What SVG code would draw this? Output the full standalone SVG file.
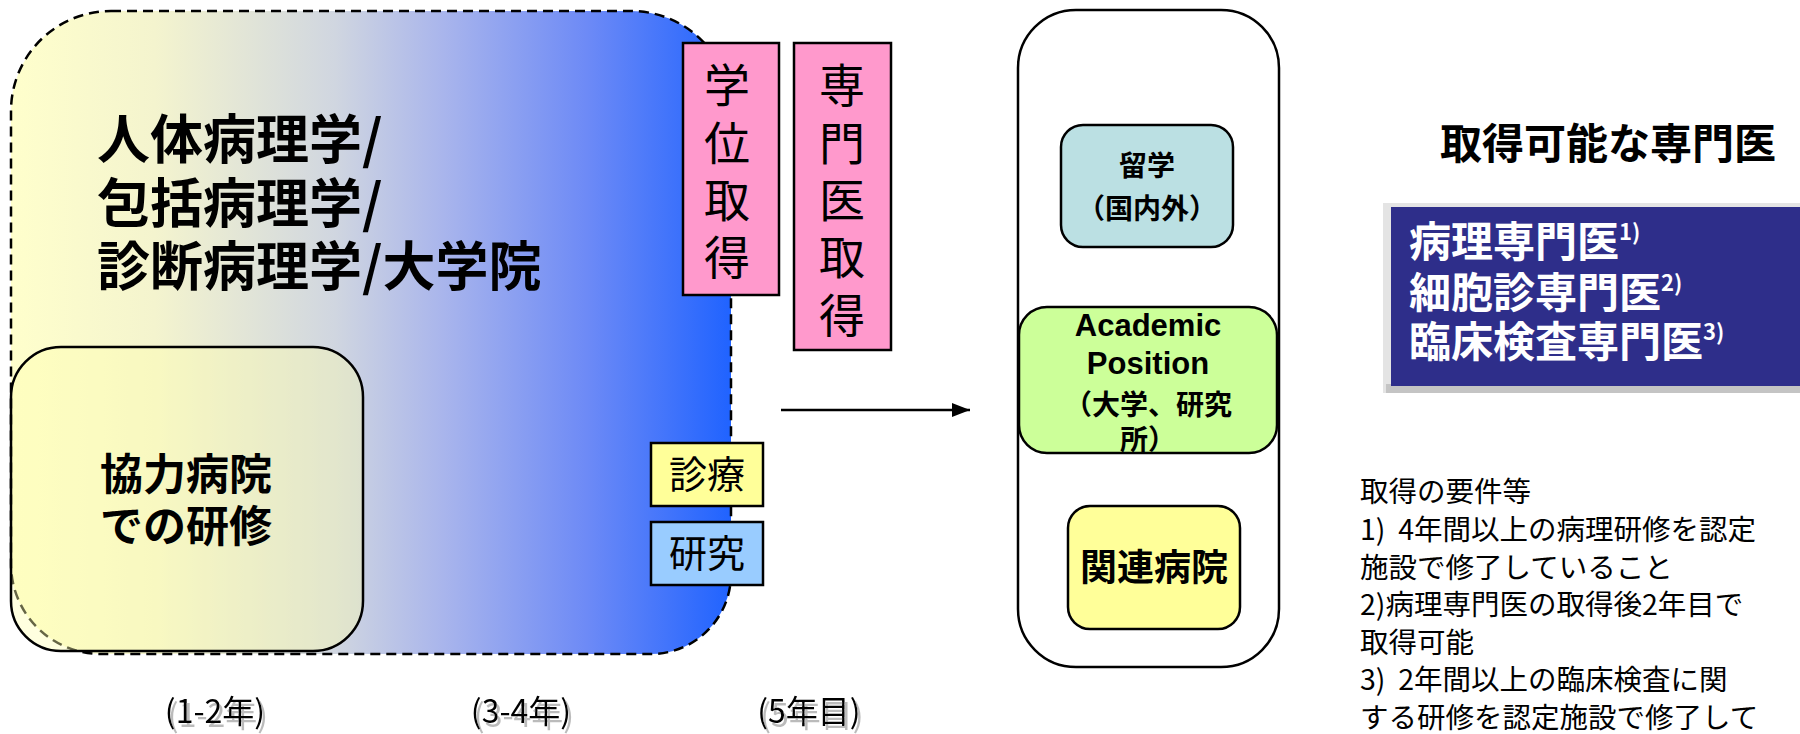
<svg xmlns="http://www.w3.org/2000/svg" width="1800" height="734" viewBox="0 0 1800 734">
<defs>
<linearGradient id="gBig" gradientUnits="userSpaceOnUse" x1="11" y1="0" x2="731" y2="0">
<stop offset="0" stop-color="#FFFFCC"/>
<stop offset="0.2" stop-color="#F4F4CE"/>
<stop offset="0.45" stop-color="#D0D6E0"/>
<stop offset="0.6" stop-color="#A9B5EC"/>
<stop offset="0.8" stop-color="#6D8AF6"/>
<stop offset="1" stop-color="#2063FF"/>
</linearGradient>
<marker id="arr" viewBox="0 0 10 10" refX="10" refY="5" markerWidth="18" markerHeight="14" markerUnits="userSpaceOnUse" orient="auto" preserveAspectRatio="none">
<path d="M0,0 L10,5 L0,10 Z" fill="#000"/>
</marker>
<filter id="sh" x="-10%" y="-20%" width="130%" height="160%">
<feOffset in="SourceAlpha" dx="3" dy="4" result="o"/>
<feFlood flood-color="#BBBBBB"/>
<feComposite in2="o" operator="in" result="s"/>
<feMerge><feMergeNode in="s"/><feMergeNode in="SourceGraphic"/></feMerge>
</filter>
<style>
.jp{font-family:"Noto Sans CJK JP","Noto Sans",sans-serif;fill:#000}
.lat{font-family:"Liberation Sans",Arial,sans-serif;fill:#000}
.b{font-weight:bold}
.box{stroke:#000;stroke-width:2.5}
.pink{fill:#FF99CC;stroke:#000;stroke-width:2.5}
.mid{text-anchor:middle}
.w{fill:#FFFFFF}
.yr{font-size:32px}
</style>
</defs>

<g id="period-box">
<path d="M111 11 H631 A100 100 0 0 1 731 111 V574 A80 80 0 0 1 651 654 H101 A90 90 0 0 1 11 564 V111 A100 100 0 0 1 111 11 Z" fill="url(#gBig)" stroke="#000" stroke-width="2.5" stroke-dasharray="10 6"/>
<text class="jp b" x="97" y="159" font-size="53">人体病理学/</text>
<text class="jp b" x="97" y="223" font-size="53">包括病理学/</text>
<text class="jp b" x="97" y="286" font-size="53">診断病理学/大学院</text>
</g>

<g id="kyoryoku">
<rect x="11" y="347" width="352" height="304" rx="50" ry="50" fill="#FFFFB0" fill-opacity="0.4" stroke="#000" stroke-width="2.5"/>
<text class="jp b mid" x="186" y="490" font-size="43">協力病院</text>
<text class="jp b mid" x="186" y="542" font-size="43">での研修</text>
</g>

<g id="gakui">
<rect class="pink" x="683" y="43" width="96" height="252"/>
<text class="jp mid" x="727" y="102" font-size="46">学</text>
<text class="jp mid" x="727" y="160" font-size="46">位</text>
<text class="jp mid" x="727" y="217" font-size="46">取</text>
<text class="jp mid" x="727" y="274" font-size="46">得</text>
</g>

<g id="senmoni">
<rect class="pink" x="794" y="43" width="97" height="307"/>
<text class="jp mid" x="842" y="102" font-size="46">専</text>
<text class="jp mid" x="842" y="160" font-size="46">門</text>
<text class="jp mid" x="842" y="217" font-size="46">医</text>
<text class="jp mid" x="842" y="274" font-size="46">取</text>
<text class="jp mid" x="842" y="332" font-size="46">得</text>
</g>

<g id="shinryo">
<rect class="box" x="651" y="443" width="112" height="63" fill="#FFFF99"/>
<text class="jp mid" x="707" y="488" font-size="38">診療</text>
</g>

<g id="kenkyu">
<rect class="box" x="651" y="522" width="112" height="63" fill="#99CCFF"/>
<text class="jp mid" x="707" y="567" font-size="38">研究</text>
</g>

<g id="years" filter="url(#sh)">
<text class="jp mid yr" x="215" y="723">(1-2年)</text>
<text class="jp mid yr" x="521" y="723">(3-4年)</text>
<text class="jp mid yr" x="809" y="723">(5年目)</text>
</g>

<g id="connectors">
<line x1="781" y1="410" x2="970" y2="410" stroke="#000" stroke-width="2.5" marker-end="url(#arr)"/>
</g>

<g id="career-column">
<rect class="box" x="1018" y="10" width="261" height="657" rx="58" ry="58" fill="#FFFFFF"/>
</g>

<g id="ryugaku">
<rect class="box" x="1061" y="125" width="172" height="122" rx="22" ry="22" fill="#BBE0E3"/>
<text class="jp b mid" x="1147" y="176" font-size="28">留学</text>
<text class="jp b mid" x="1147" y="219" font-size="28">（国内外）</text>
</g>

<g id="academic">
<rect class="box" x="1019" y="307" width="258" height="146" rx="28" ry="28" fill="#CCFF99"/>
<text class="lat b mid" x="1148" y="336" font-size="31">Academic</text>
<text class="lat b mid" x="1148" y="374" font-size="31">Position</text>
<text class="jp b mid" x="1148" y="415" font-size="28">（大学、研究</text>
<text class="jp b mid" x="1148" y="450" font-size="28">所）</text>
</g>

<g id="kanren">
<rect class="box" x="1068" y="506" width="172" height="123" rx="22" ry="22" fill="#FFFF99"/>
<text class="jp b mid" x="1154" y="581" font-size="37">関連病院</text>
</g>

<g id="title">
<text class="jp b" x="1440" y="159" font-size="42">取得可能な専門医</text>
</g>

<g id="specialists">
<rect x="1383" y="203" width="417" height="190" fill="#E4E4E4"/>
<rect x="1386" y="384" width="414" height="9" fill="#C4C4C4"/>
<rect x="1391" y="207" width="409" height="179" fill="#2E2E8A"/>
<text class="jp b w" x="1409" y="257" font-size="42">病理専門医<tspan font-size="22" dy="-17">1)</tspan></text>
<text class="jp b w" x="1409" y="308" font-size="42">細胞診専門医<tspan font-size="22" dy="-17">2)</tspan></text>
<text class="jp b w" x="1409" y="357" font-size="42">臨床検査専門医<tspan font-size="22" dy="-17">3)</tspan></text>
</g>

<g id="notes">
<text class="jp" x="1360" y="502" font-size="28.5">取得の要件等</text>
<text class="jp" x="1360" y="540" font-size="28.5" xml:space="preserve">1)  4年間以上の病理研修を認定</text>
<text class="jp" x="1360" y="578" font-size="28.5">施設で修了していること</text>
<text class="jp" x="1360" y="615" font-size="28.5">2)病理専門医の取得後2年目で</text>
<text class="jp" x="1360" y="653" font-size="28.5">取得可能</text>
<text class="jp" x="1360" y="690" font-size="28.5" xml:space="preserve">3)  2年間以上の臨床検査に関</text>
<text class="jp" x="1360" y="728" font-size="28.5">する研修を認定施設で修了して</text>
</g>
</svg>
